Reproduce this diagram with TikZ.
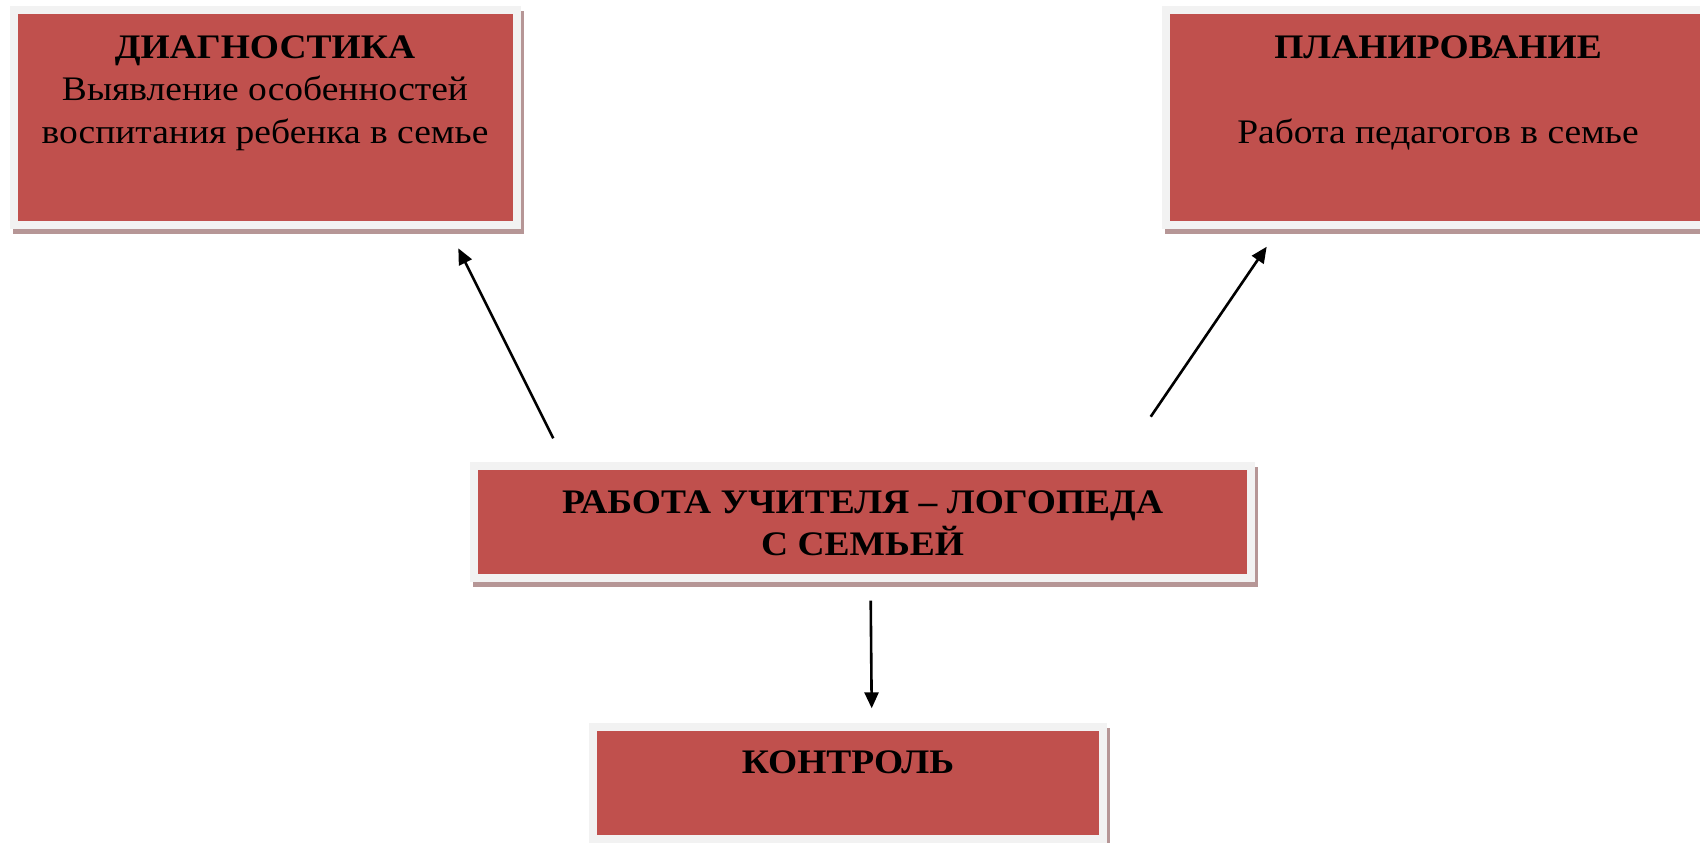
\documentclass[tikz,border=0pt]{standalone}
\usepackage{fontspec}
\setmainfont[FakeStretch=1.09]{Liberation Serif}
\usetikzlibrary{arrows.meta,shadows}

\definecolor{blockred}{RGB}{192,80,77}
\definecolor{blockframe}{RGB}{242,242,242}
\definecolor{blockshadow}{RGB}{182,150,150}

\tikzset{
    block/.style={rectangle, fill=blockred, draw=blockframe, line width=4pt,
        drop shadow={shadow xshift=1.5pt, shadow yshift=-2.5pt, fill=blockshadow, draw=blockshadow, opacity=1}},
    blocktext/.style={anchor=north, inner sep=0pt, align=center, font=\fontsize{17.2}{21.4}\selectfont},
    worktext/.style={blocktext, font=\fontsize{17.2}{20.85}\selectfont\bfseries},
    arrow/.style={-{Triangle[length=8pt,width=7pt]}, line width=1.3pt}
}

\begin{document}
\begin{tikzpicture}[x=0.5pt,y=-0.5pt]
        \useasboundingbox ( 0, 0 ) rectangle ( 1700, 842 );

        % блоки
        \node [ block, minimum width=251.75pt, minimum height=107.5pt ] (diag) at ( 265.25, 117.5 ) {};
        \node [ block, minimum width=272pt, minimum height=107.5pt ] (plan) at ( 1438, 117.5 ) {};
        \node [ block, minimum width=388.2pt, minimum height=56pt ] (work) at ( 862.5, 522 ) {};
        \node [ block, minimum width=254.75pt, minimum height=56.2pt ] (control) at ( 847.75, 782.8 ) {};

        % надписи
        \node [ blocktext ] (diagtext) at ( 265, 35 ) {\textbf{ДИАГНОСТИКА}\\Выявление особенностей\\воспитания ребенка в семье};
        \node [ blocktext ] (plantext) at ( 1438, 35 ) {\textbf{ПЛАНИРОВАНИЕ}\\ \mbox{}\\Работа педагогов в семье};
        \node [ worktext ] (worktext) at ( 862.6, 490.5 ) {РАБОТА УЧИТЕЛЯ – ЛОГОПЕДА\\С СЕМЬЕЙ};
        \node [ blocktext ] (controltext) at ( 848, 750 ) {\textbf{КОНТРОЛЬ}};

        % концы стрелок
        \coordinate (workleft) at ( 553.3, 438.3 );
        \coordinate (diagend) at ( 458.3, 248.3 );
        \coordinate (workright) at ( 1150.7, 416.7 );
        \coordinate (planend) at ( 1266.7, 246.7 );
        \coordinate (workdown) at ( 870.7, 600.7 );
        \coordinate (controlend) at ( 871.7, 708.3 );

        % стрелки
        \draw [ arrow ] (workleft) -- (diagend);
        \draw [ arrow ] (workright) -- (planend);
        \draw [ arrow ] (workdown) -- (controlend);
    \end{tikzpicture}
\end{document}
